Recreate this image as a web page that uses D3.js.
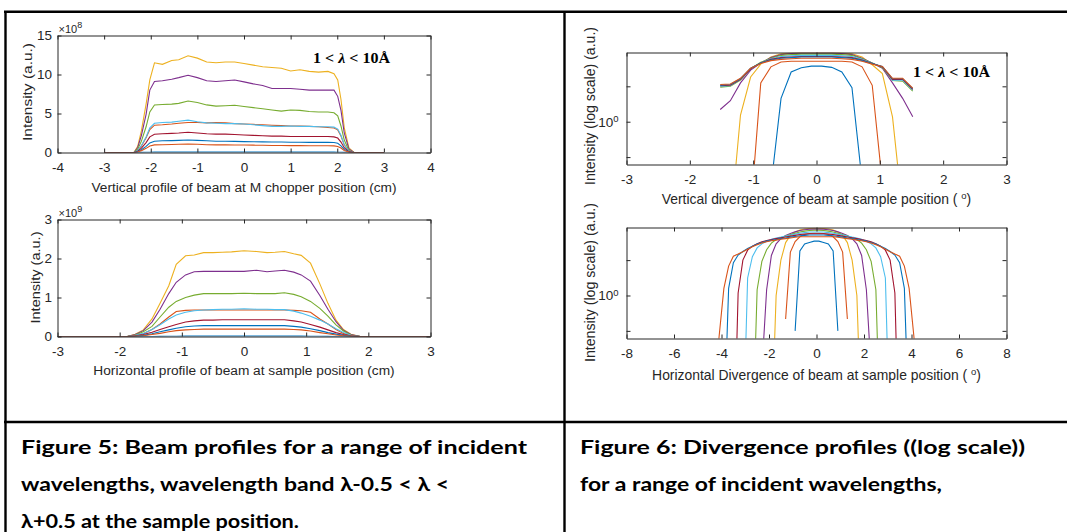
<!DOCTYPE html>
<html>
<head>
<meta charset="utf-8">
<script src="https://cdn.jsdelivr.net/npm/d3@7"></script>
<style>
  body { margin: 0; background: #fff; }
  svg text { font-family: "Liberation Sans", Arial, sans-serif; }
</style>
</head>
<body>
<script>
// MATLAB default line colours, one per wavelength band (1..9)
var lineColors = ["#0072BD", "#D95319", "#EDB120", "#7E2F8E", "#77AC30", "#4DBEEE", "#A2142F", "#0072BD", "#D95319"];

// ---- Figure 5 top: vertical profile at M chopper (cm, intensity x1e8)
var vertPosX = [-3, -2.36, -2.28, -2.2, -2.1, -2.02, -1.92, -1.75, -1.55, -1.4, -1.2, -1.0, -0.8, -0.6, -0.4, -0.2, 0,
  0.2, 0.4, 0.6, 0.8, 1.0, 1.2, 1.4, 1.6, 1.8, 1.93, 2.01, 2.08, 2.15, 2.25, 2.36, 3];
var vertProfile = [
  [0, 0, 0, 0.01, 0.03, 0.04, 0.05, 0.05, 0.05, 0.05, 0.05, 0.05, 0.05, 0.05, 0.05, 0.05, 0.05, 0.05, 0.05, 0.05, 0.05, 0.05, 0.05, 0.05, 0.05, 0.05, 0.05, 0.04, 0.03, 0.015, 0, 0, 0],
  [0, 0, 0.25, 0.84, 1.9, 2.95, 3.5, 3.55, 3.65, 3.75, 3.85, 3.85, 3.8, 3.85, 3.8, 3.7, 3.65, 3.6, 3.55, 3.5, 3.45, 3.4, 3.4, 3.35, 3.3, 3.2, 3.15, 2.9, 2.1, 0.98, 0.17, 0, 0],
  [0, 0, 0.8, 2.8, 6.2, 9.3, 11.5, 11.3, 11.8, 11.9, 12.4, 12.1, 11.6, 11.5, 11.6, 11.6, 11.4, 11.2, 11.0, 10.9, 10.8, 10.45, 10.6, 10.4, 10.3, 10.4, 10.1, 9.3, 6.8, 3.2, 0.6, 0, 0],
  [0, 0, 0.64, 2.2, 4.9, 8.0, 9.1, 9.2, 9.4, 9.6, 9.9, 9.6, 9.2, 9.1, 9.2, 9.3, 9.05, 8.8, 8.6, 8.2, 8.2, 8.2, 8.1, 8.0, 8.0, 8.0, 8.0, 7.2, 5.4, 2.5, 0.45, 0, 0],
  [0, 0, 0.43, 1.46, 3.3, 5.2, 6.1, 6.15, 6.2, 6.3, 6.6, 6.4, 6.1, 5.95, 6.0, 6.05, 5.9, 5.75, 5.6, 5.45, 5.3, 5.45, 5.4, 5.25, 5.2, 5.2, 5.1, 4.7, 3.4, 1.6, 0.28, 0, 0],
  [0, 0, 0.26, 0.9, 2.0, 3.15, 3.75, 3.85, 3.9, 4.0, 4.15, 3.95, 3.8, 3.75, 3.7, 3.7, 3.65, 3.55, 3.45, 3.35, 3.35, 3.4, 3.35, 3.35, 3.3, 3.3, 3.25, 3.0, 2.2, 1.0, 0.18, 0, 0],
  [0, 0, 0.16, 0.56, 1.27, 2.0, 2.35, 2.4, 2.45, 2.5, 2.6, 2.5, 2.4, 2.35, 2.35, 2.3, 2.25, 2.2, 2.15, 2.1, 2.1, 2.05, 2.05, 2.05, 2.05, 2.05, 2.0, 1.85, 1.34, 0.62, 0.11, 0, 0],
  [0, 0, 0.1, 0.35, 0.78, 1.23, 1.45, 1.5, 1.52, 1.55, 1.6, 1.55, 1.5, 1.45, 1.45, 1.42, 1.4, 1.38, 1.36, 1.35, 1.34, 1.32, 1.32, 1.3, 1.3, 1.3, 1.28, 1.18, 0.86, 0.4, 0.07, 0, 0],
  [0, 0, 0.07, 0.24, 0.53, 0.83, 0.98, 1.0, 1.02, 1.05, 1.08, 1.05, 1.0, 0.98, 0.98, 0.97, 0.96, 0.94, 0.92, 0.9, 0.9, 0.88, 0.88, 0.87, 0.86, 0.86, 0.85, 0.78, 0.57, 0.26, 0.05, 0, 0]
];

// ---- Figure 5 bottom: horizontal profile at sample (cm, intensity x1e9)
var horzPosX = [-3, -2, -1.88, -1.75, -1.62, -1.48, -1.35, -1.21, -1.09, -0.94, -0.8, -0.65, -0.5, -0.35, -0.2, 0,
  0.2, 0.37, 0.5, 0.65, 0.8, 0.92, 1.07, 1.22, 1.35, 1.48, 1.6, 1.72, 1.87, 2, 3];
var horzProfile = [
  [0, 0, 0, 0, 0, 0, 0.003, 0.006, 0.008, 0.01, 0.01, 0.01, 0.01, 0.01, 0.01, 0.01, 0.01, 0.01, 0.01, 0.01, 0.01, 0.01, 0.008, 0.006, 0.003, 0, 0, 0, 0, 0, 0],
  [0, 0, 0, 0.02, 0.07, 0.18, 0.32, 0.5, 0.64, 0.67, 0.68, 0.68, 0.68, 0.68, 0.68, 0.68, 0.68, 0.68, 0.68, 0.68, 0.67, 0.66, 0.62, 0.45, 0.32, 0.18, 0.08, 0.02, 0, 0, 0],
  [0, 0, 0, 0.06, 0.17, 0.45, 0.85, 1.3, 1.85, 2.07, 2.09, 2.15, 2.15, 2.16, 2.17, 2.2, 2.18, 2.15, 2.16, 2.18, 2.12, 2.08, 1.88, 1.35, 0.85, 0.42, 0.18, 0.06, 0, 0, 0],
  [0, 0, 0, 0.05, 0.15, 0.37, 0.7, 1.1, 1.39, 1.58, 1.66, 1.67, 1.67, 1.67, 1.67, 1.67, 1.7, 1.66, 1.68, 1.7, 1.65, 1.58, 1.42, 1.05, 0.7, 0.38, 0.16, 0.05, 0, 0, 0],
  [0, 0, 0, 0.04, 0.12, 0.26, 0.5, 0.75, 0.9, 1.0, 1.06, 1.1, 1.1, 1.1, 1.1, 1.11, 1.1, 1.1, 1.1, 1.12, 1.08, 1.02, 0.9, 0.72, 0.52, 0.3, 0.14, 0.04, 0, 0, 0],
  [0, 0, 0, 0.03, 0.08, 0.18, 0.3, 0.45, 0.55, 0.62, 0.66, 0.68, 0.69, 0.7, 0.7, 0.71, 0.7, 0.7, 0.69, 0.69, 0.65, 0.6, 0.52, 0.42, 0.32, 0.2, 0.1, 0.03, 0, 0, 0],
  [0, 0, 0, 0.02, 0.05, 0.11, 0.18, 0.25, 0.31, 0.37, 0.4, 0.42, 0.42, 0.43, 0.43, 0.43, 0.43, 0.43, 0.43, 0.43, 0.4, 0.37, 0.31, 0.24, 0.17, 0.1, 0.05, 0.02, 0, 0, 0],
  [0, 0, 0, 0.01, 0.03, 0.07, 0.12, 0.17, 0.21, 0.25, 0.27, 0.28, 0.28, 0.28, 0.28, 0.28, 0.28, 0.28, 0.28, 0.28, 0.26, 0.24, 0.2, 0.15, 0.1, 0.06, 0.03, 0.01, 0, 0, 0],
  [0, 0, 0, 0.01, 0.02, 0.05, 0.08, 0.12, 0.15, 0.17, 0.18, 0.19, 0.19, 0.19, 0.19, 0.19, 0.19, 0.19, 0.19, 0.19, 0.18, 0.17, 0.14, 0.1, 0.07, 0.04, 0.02, 0.01, 0, 0, 0]
];

// ---- Figure 6 top: vertical divergence at sample (deg, log intensity; 0 = no data)
var vertDivX = [-1.52, -1.36, -1.2, -1.04, -0.88, -0.72, -0.56, -0.4, -0.24, -0.08, 0.08, 0.24, 0.4, 0.56, 0.72, 0.88, 1.04, 1.2, 1.36, 1.52];
var vertDiv = [
  [0, 0, 0, 0, 0, 0.28, 1.58, 2.65, 2.88, 2.97, 2.97, 2.9, 2.65, 1.95, 0.31, 0, 0, 0, 0, 0],
  [0, 0, 0, 0.17, 2.14, 2.93, 3.22, 3.27, 3.27, 3.27, 3.27, 3.27, 3.27, 3.22, 2.93, 2.04, 0.3, 0, 0, 0],
  [0, 0.13, 1.14, 2.4, 3.09, 3.55, 3.78, 3.83, 3.85, 3.85, 3.85, 3.85, 3.83, 3.78, 3.55, 3.05, 2.57, 1.1, 0.17, 0],
  [1.27, 1.51, 2.14, 2.75, 3.16, 3.51, 3.72, 3.8, 3.83, 3.83, 3.83, 3.83, 3.8, 3.72, 3.47, 3.16, 2.85, 2.14, 1.58, 1.1],
  [1.97, 2.0, 2.26, 2.82, 3.2, 3.47, 3.67, 3.72, 3.76, 3.76, 3.76, 3.76, 3.72, 3.67, 3.43, 3.16, 2.88, 2.24, 2.21, 1.82],
  [2.0, 2.02, 2.29, 2.82, 3.16, 3.43, 3.59, 3.63, 3.67, 3.67, 3.67, 3.67, 3.63, 3.59, 3.39, 3.13, 2.92, 2.26, 2.26, 1.86],
  [2.02, 2.04, 2.29, 2.82, 3.16, 3.39, 3.51, 3.55, 3.59, 3.59, 3.59, 3.59, 3.55, 3.51, 3.35, 3.13, 2.92, 2.29, 2.29, 1.88],
  [2.04, 2.07, 2.32, 2.85, 3.16, 3.35, 3.47, 3.51, 3.55, 3.55, 3.55, 3.55, 3.51, 3.47, 3.31, 3.13, 2.95, 2.32, 2.32, 1.91],
  [2.07, 2.09, 2.34, 2.85, 3.13, 3.31, 3.39, 3.43, 3.47, 3.47, 3.47, 3.47, 3.43, 3.39, 3.27, 3.09, 2.95, 2.34, 2.34, 1.93]
];

// ---- Figure 6 bottom: horizontal divergence at sample (deg, log intensity; 0 = no data)
var horzDivX = [-4.3, -4.1, -3.9, -3.7, -3.5, -3.3, -3.1, -2.9, -2.7, -2.5, -2.3, -2.1, -1.9, -1.7, -1.5, -1.3, -1.1, -0.9, -0.7, -0.5, -0.3, -0.1,
  0.1, 0.3, 0.5, 0.7, 0.9, 1.1, 1.3, 1.5, 1.7, 1.9, 2.1, 2.3, 2.5, 2.7, 2.9, 3.1, 3.3, 3.5, 3.7, 3.9, 4.1, 4.3];
var horzDiv = [
  [0, 0, 0, 0, 0, 0, 0, 0, 0, 0, 0, 0, 0, 0, 0, 0, 0, 0.5, 2.4, 2.75, 2.83, 2.9,
   2.9, 2.83, 2.75, 2.4, 0.5, 0, 0, 0, 0, 0, 0, 0, 0, 0, 0, 0, 0, 0, 0, 0, 0, 0],
  [0, 0, 0, 0, 0, 0, 0, 0, 0, 0, 0, 0, 0, 0, 0, 0.63, 2.34, 2.88, 3.16, 3.31, 3.37, 3.39,
   3.39, 3.37, 3.31, 3.16, 2.88, 2.34, 0.63, 0, 0, 0, 0, 0, 0, 0, 0, 0, 0, 0, 0, 0, 0, 0],
  [0, 0, 0, 0, 0, 0, 0, 0, 0, 0, 0, 0, 0.063, 1.0, 2.0, 2.82, 3.24, 3.47, 3.6, 3.68, 3.72, 3.74,
   3.74, 3.72, 3.68, 3.6, 3.47, 3.24, 2.82, 2.0, 1.0, 0.063, 0, 0, 0, 0, 0, 0, 0, 0, 0, 0, 0, 0],
  [0, 0, 0, 0, 0, 0, 0, 0, 0, 0, 0.23, 1.12, 2.19, 2.75, 3.05, 3.24, 3.37, 3.48, 3.57, 3.63, 3.66, 3.67,
   3.67, 3.66, 3.63, 3.57, 3.48, 3.37, 3.24, 3.05, 2.75, 2.19, 1.12, 0.23, 0, 0, 0, 0, 0, 0, 0, 0, 0, 0],
  [0, 0, 0, 0, 0, 0, 0, 0, 0.05, 1.12, 1.95, 2.45, 2.79, 2.99, 3.1, 3.2, 3.3, 3.39, 3.47, 3.53, 3.57, 3.59,
   3.59, 3.57, 3.53, 3.47, 3.39, 3.3, 3.2, 3.1, 2.99, 2.79, 2.45, 1.95, 1.12, 0.05, 0, 0, 0, 0, 0, 0, 0, 0],
  [0, 0, 0, 0, 0, 0, 0.05, 1.41, 2.14, 2.54, 2.75, 2.9, 3.01, 3.08, 3.14, 3.21, 3.27, 3.33, 3.39, 3.43, 3.47, 3.47,
   3.47, 3.47, 3.43, 3.39, 3.33, 3.27, 3.21, 3.14, 3.08, 3.01, 2.9, 2.75, 2.54, 2.14, 1.41, 0.05, 0, 0, 0, 0, 0, 0],
  [0, 0, 0, 0, 0.03, 1.05, 2.0, 2.43, 2.63, 2.75, 2.86, 2.94, 2.99, 3.05, 3.1, 3.15, 3.2, 3.25, 3.3, 3.33, 3.35, 3.35,
   3.35, 3.35, 3.33, 3.3, 3.25, 3.2, 3.15, 3.1, 3.05, 2.99, 2.94, 2.86, 2.75, 2.63, 2.43, 2.0, 1.05, 0.03, 0, 0, 0, 0],
  [0, 0, 0.07, 1.15, 1.9, 2.21, 2.37, 2.51, 2.63, 2.74, 2.83, 2.9, 2.95, 3.0, 3.05, 3.09, 3.14, 3.18, 3.22, 3.25, 3.27, 3.27,
   3.27, 3.27, 3.25, 3.22, 3.18, 3.14, 3.09, 3.05, 3.0, 2.95, 2.9, 2.83, 2.74, 2.63, 2.51, 2.37, 2.21, 1.9, 1.15, 0.07, 0, 0],
  [0.15, 0.45, 1.15, 1.78, 2.16, 2.25, 2.36, 2.48, 2.6, 2.7, 2.8, 2.87, 2.92, 2.96, 3.01, 3.05, 3.09, 3.13, 3.16, 3.16, 3.16, 3.16,
   3.16, 3.16, 3.16, 3.16, 3.13, 3.09, 3.05, 3.01, 2.96, 2.92, 2.87, 2.8, 2.7, 2.6, 2.48, 2.36, 2.25, 2.16, 1.78, 1.15, 0.45, 0.15]
];

var captionLeft = ["Figure 5: Beam profiles for a range of incident",
  "wavelengths, wavelength band \u03bb-0.5 < \u03bb <",
  "\u03bb+0.5 at the sample position."];
var captionRight = ["Figure 6: Divergence profiles ((log scale))",
  "for a range of incident wavelengths,"];

var ink = "#262626";

var svg = d3.select("body").append("svg")
    .attr("width", 1067)
    .attr("height", 532);

// table rules
var rules = [[4, 11.8, 1067, 11.8], [5.5, 11, 5.5, 532], [564.5, 11, 564.5, 532], [4, 422, 1067, 422]];
svg.selectAll("line.rule").data(rules).enter().append("line")
    .attr("class", "rule")
    .attr("x1", function(d) { return d[0]; }).attr("y1", function(d) { return d[1]; })
    .attr("x2", function(d) { return d[2]; }).attr("y2", function(d) { return d[3]; })
    .attr("stroke", "#000").attr("stroke-width", 2.4);

function panel(cfg) {
  var x = d3.scaleLinear().domain(cfg.xDomain).range(cfg.xRange);
  var y = (cfg.log ? d3.scaleLog() : d3.scaleLinear()).domain(cfg.yDomain).range(cfg.yRange);
  var g = svg.append("g");

  g.append("clipPath").attr("id", "clip" + cfg.id)
    .append("rect")
      .attr("x", cfg.xRange[0]).attr("y", cfg.yRange[1])
      .attr("width", cfg.xRange[1] - cfg.xRange[0])
      .attr("height", cfg.yRange[0] - cfg.yRange[1]);

  var line = d3.line()
    .defined(function(d) { return !cfg.log || d[1] > 0; })
    .x(function(d) { return x(d[0]); })
    .y(function(d) { return y(d[1]); });

  g.append("g").attr("clip-path", "url(#clip" + cfg.id + ")")
    .selectAll("path").data(cfg.series).enter().append("path")
      .attr("fill", "none")
      .attr("stroke", function(d, i) { return lineColors[i]; })
      .attr("stroke-width", 1.1)
      .attr("d", function(s) { return line(s.map(function(v, j) { return [cfg.xs[j], v]; })); });

  var fmt = function(d) { return String(d); };
  var yFmt = cfg.log ? function(d) { return d === 1 ? "10" : ""; } : fmt;
  var axes = [
    ["b", d3.axisBottom(x).tickValues(cfg.xTicks).tickFormat(fmt).tickPadding(cfg.xPad), 0, cfg.yRange[0]],
    ["t", d3.axisTop(x).tickValues(cfg.xTicks).tickFormat(""), 0, cfg.yRange[1]],
    ["l", d3.axisLeft(y).tickValues(cfg.yTicks).tickFormat(yFmt).tickPadding(cfg.yPad), cfg.xRange[0], 0],
    ["r", d3.axisRight(y).tickValues(cfg.yTicks).tickFormat(""), cfg.xRange[1], 0]
  ];
  axes.forEach(function(a) {
    var ag = g.append("g")
      .attr("transform", "translate(" + a[2] + "," + a[3] + ")")
      .call(a[1].tickSize(-4).tickSizeOuter(0));
    ag.select(".domain").attr("stroke", ink);
    ag.selectAll(".tick line").attr("stroke", ink);
    ag.selectAll(".tick text").attr("fill", ink).style("font-size", "13.5px")
      .style("font-family", "'Liberation Sans', Arial, sans-serif");
    if (cfg.log && a[0] === "l") {
      // decade tick written as 10^0
      ag.selectAll(".tick text").filter(function(d) { return d === 1; })
        .append("tspan").attr("dy", "-0.45em").style("font-size", "9.5px").text("0");
    }
  });

  // x label
  var xl = g.append("text")
    .attr("x", (cfg.xRange[0] + cfg.xRange[1]) / 2).attr("y", cfg.xLabelY)
    .attr("text-anchor", "middle").attr("fill", ink)
    .style("font-size", cfg.labelSize + "px")
    .text(cfg.xLabel);
  if (cfg.degree) {
    xl.append("tspan").attr("dy", -5).style("font-size", "9.5px").text("o");
    xl.append("tspan").attr("dy", 5).text(")");
  }

  // y label
  g.append("text")
    .attr("transform", "translate(" + cfg.yLabelX + "," + cfg.yLabelY + ") rotate(-90)")
    .attr("text-anchor", "middle").attr("fill", ink)
    .style("font-size", cfg.labelSize + "px")
    .attr("textLength", cfg.yLabelLen).attr("lengthAdjust", "spacingAndGlyphs")
    .text(cfg.yLabel);

  // exponent
  if (cfg.exponent) {
    var ex = g.append("text")
      .attr("x", cfg.xRange[0] + 1).attr("y", cfg.yRange[1] - 3)
      .attr("fill", ink).style("font-size", "11px")
      .text("\u00d710");
    ex.append("tspan").attr("dy", -4.5).style("font-size", "9px").text(cfg.exponent);
  }

  // wavelength band note
  if (cfg.note) {
    var nt = g.append("text")
      .attr("x", cfg.note[0]).attr("y", cfg.note[1])
      .attr("fill", "#000")
      .style("font-family", "'Liberation Serif', 'Times New Roman', serif")
      .style("font-weight", "bold").style("font-size", "14px")
      .attr("textLength", 77).attr("lengthAdjust", "spacingAndGlyphs");
    nt.append("tspan").text("1 < ");
    nt.append("tspan").style("font-style", "italic").text("\u03bb");
    nt.append("tspan").text(" < 10\u00c5");
  }
}

panel({
  id: 1, xs: vertPosX, series: vertProfile,
  xDomain: [-4, 4], xRange: [57.5, 430.5], yDomain: [0, 15], yRange: [152.5, 35.5],
  xTicks: d3.range(-4, 5), yTicks: [0, 5, 10, 15], xPad: 10, yPad: 5.5,
  labelSize: 13.7, xLabel: "Vertical profile of beam at M chopper position (cm)", xLabelY: 192,
  yLabel: "Intensity (a.u.)", yLabelX: 32, yLabelY: 92, yLabelLen: 98,
  exponent: "8", note: [313, 63]
});

panel({
  id: 2, xs: horzPosX, series: horzProfile,
  xDomain: [-3, 3], xRange: [57.5, 430.5], yDomain: [0, 3], yRange: [336.5, 219.5],
  xTicks: d3.range(-3, 4), yTicks: [0, 1, 2, 3], xPad: 10, yPad: 5.5,
  labelSize: 13.7, xLabel: "Horizontal profile of beam at sample position (cm)", xLabelY: 375,
  yLabel: "Intensity (a.u.)", yLabelX: 39.5, yLabelY: 277.5, yLabelLen: 92,
  exponent: "9"
});

panel({
  id: 3, xs: vertDivX, series: vertDiv, log: true,
  xDomain: [-3, 3], xRange: [626.5, 1006.5], yDomain: [0.4324, 3.88], yRange: [164.5, 52.5],
  xTicks: d3.range(-3, 4), yTicks: [0.5, 1, 2], xPad: 9.5, yPad: 8,
  labelSize: 13.9, xLabel: "Vertical divergence of beam at sample position ( ", degree: true, xLabelY: 204,
  yLabel: "Intensity (log scale) (a.u.)", yLabelX: 595, yLabelY: 106, yLabelLen: 158,
  note: [913, 77]
});

panel({
  id: 4, xs: horzDivX, series: horzDiv, log: true,
  xDomain: [-8, 8], xRange: [626.5, 1006.5], yDomain: [0.4305, 3.79], yRange: [338.5, 227.5],
  xTicks: d3.range(-8, 9, 2), yTicks: [0.5, 1, 2], xPad: 9.8, yPad: 8,
  labelSize: 13.9, xLabel: "Horizontal Divergence of beam at sample position ( ", degree: true, xLabelY: 380,
  yLabel: "Intensity (log scale) (a.u.)", yLabelX: 595, yLabelY: 282.5, yLabelLen: 159
});

// captions
function caption(lines, x0, widths) {
  svg.append("g").selectAll("text").data(lines).enter().append("text")
    .attr("x", x0)
    .attr("y", function(d, i) { return 454.3 + i * 36.9; })
    .attr("fill", "#000")
    .style("font-family", "Lato, 'Noto Sans', sans-serif")
    .style("font-weight", "bold").style("font-size", "19.5px")
    .attr("textLength", function(d, i) { return widths[i]; })
    .attr("lengthAdjust", "spacingAndGlyphs")
    .text(function(d) { return d; });
}
caption(captionLeft, 21, [506, 428, 278]);
caption(captionRight, 580, [445, 362]);
</script>
</body>
</html>
